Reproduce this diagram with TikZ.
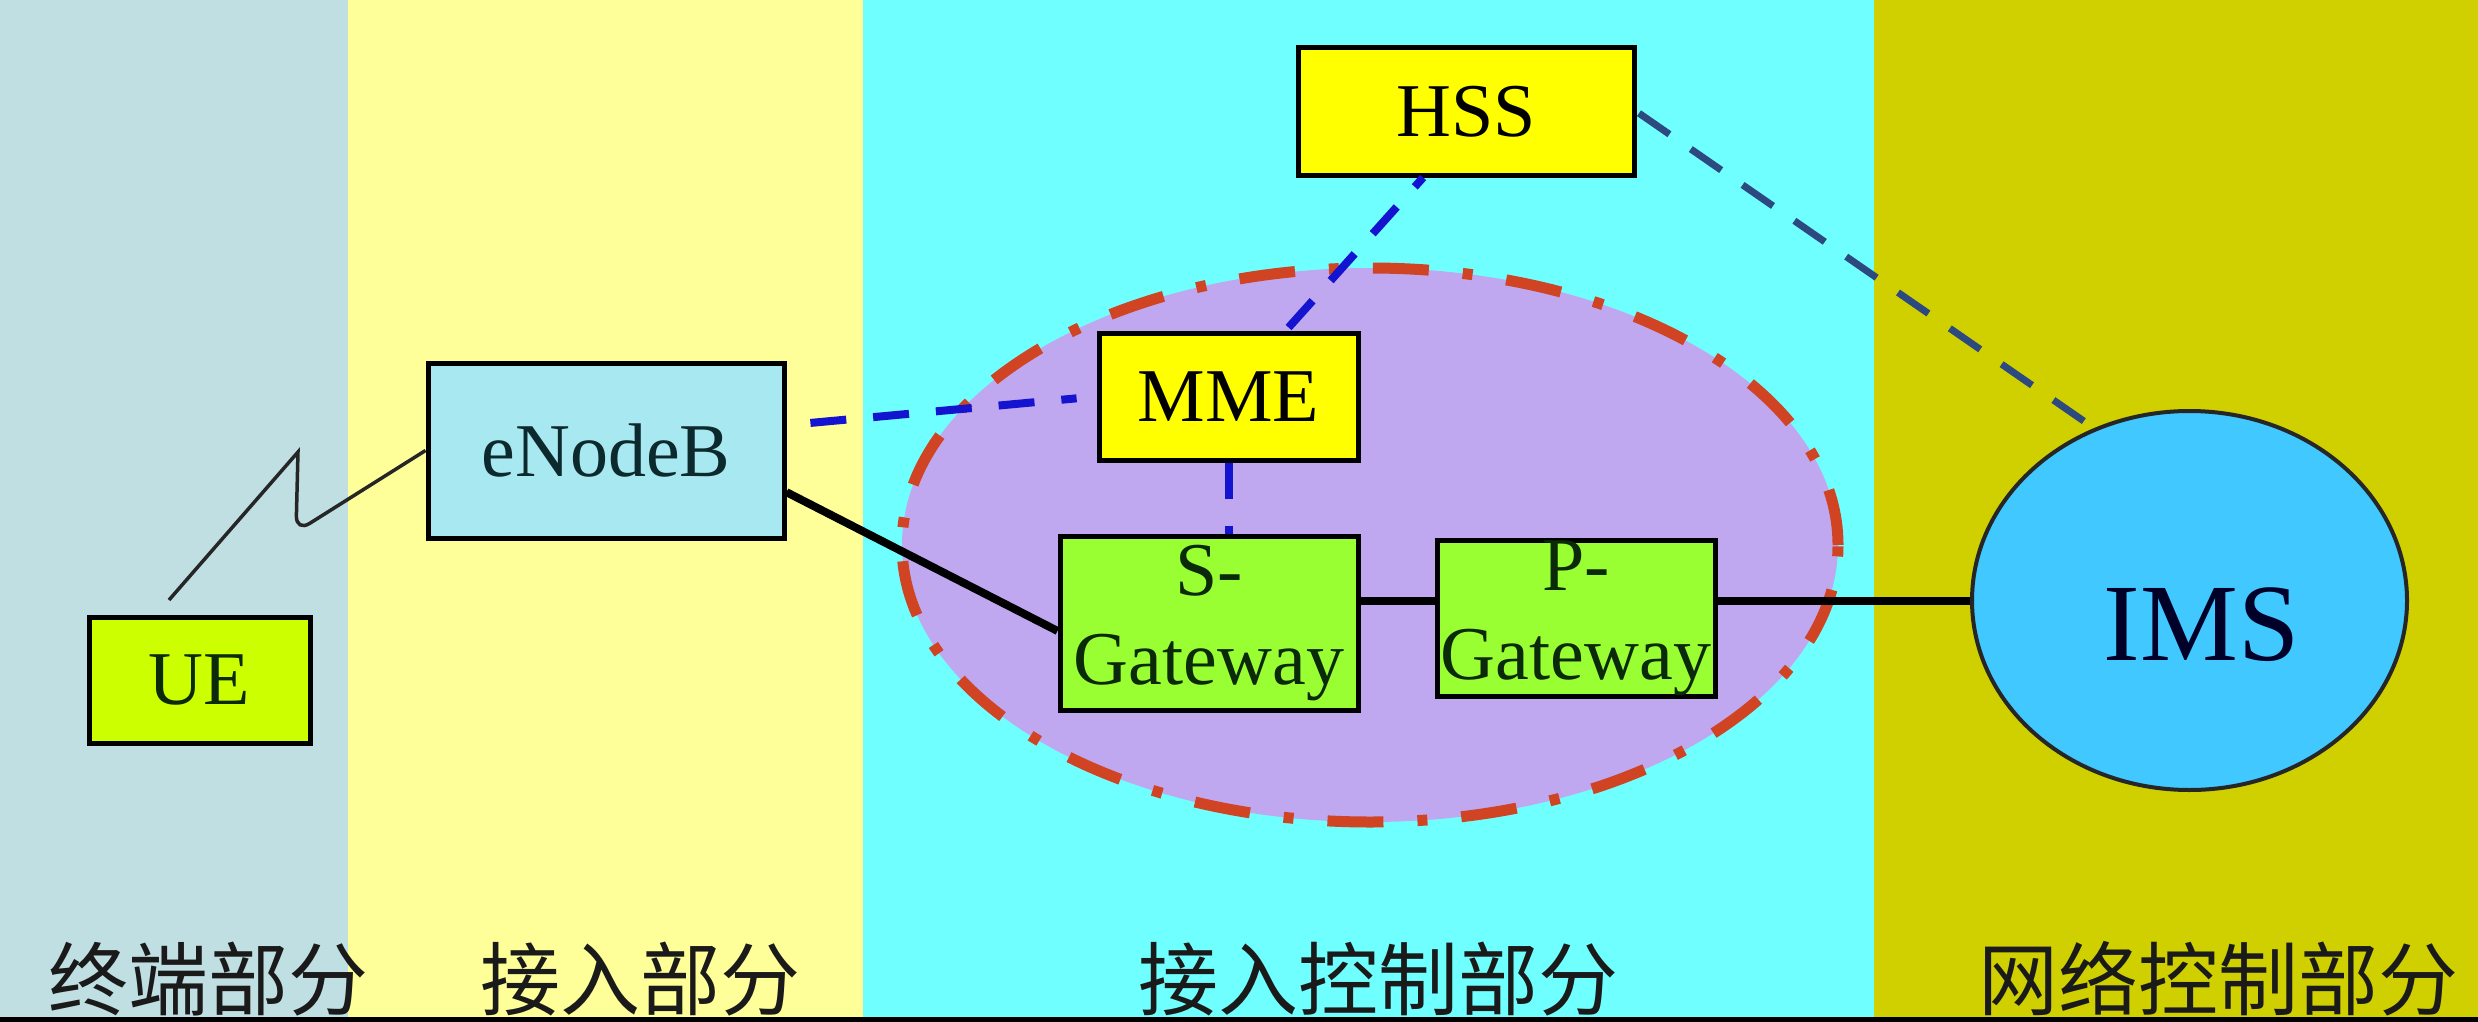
\documentclass[tikz,border=0pt]{standalone}
\usepackage{fontspec}
\setmainfont{Liberation Serif}
\newfontfamily\cjk{Noto Sans CJK SC}
\usetikzlibrary{shapes.geometric}
\definecolor{colA}{HTML}{C0DFE3}
\definecolor{colB}{HTML}{FFFF99}
\definecolor{colC}{HTML}{70FFFF}
\definecolor{colD}{HTML}{D0D000}
\definecolor{coreF}{HTML}{C0A8F0}
\definecolor{coreD}{HTML}{D04424}
\definecolor{imsF}{HTML}{40C8FF}
\definecolor{enbF}{HTML}{A8E8F0}
\definecolor{ueF}{HTML}{CCFF00}
\definecolor{yelF}{HTML}{FFFF00}
\definecolor{gwF}{HTML}{99FF33}
\definecolor{blueD}{HTML}{1414D0}
\definecolor{slateD}{HTML}{2C4A80}
\definecolor{txtG}{HTML}{0A2A0A}
\definecolor{txtT}{HTML}{0C2A2E}
\definecolor{txtN}{HTML}{000028}
\definecolor{labT}{HTML}{1A1A1A}
\begin{document}
\begin{tikzpicture}[x=1pt,y=-1pt,
  box/.style={draw=black,line width=5pt,inner sep=0pt,align=center,
    font=\fontsize{76}{89}\selectfont,text=black},
  core/.style={ellipse,fill=coreF,draw=coreD,line width=11pt,
    dash pattern=on 56pt off 34pt on 10pt off 34pt,inner sep=0pt},
  imsnode/.style={ellipse,fill=imsF,draw=black!85,line width=4pt,inner sep=0pt,
    font=\fontsize{110}{110}\selectfont,text=txtN},
  bluedash/.style={draw=blueD,line width=8pt,dash pattern=on 36pt off 27pt},
  slatedash/.style={draw=slateD,line width=7pt,dash pattern=on 37pt off 26pt},
  solidline/.style={draw=black,line width=8pt},
  zigline/.style={draw=black!85,line width=3.5pt},
  part/.style={anchor=base,inner sep=0pt,font=\cjk\fontsize{80}{80}\selectfont,text=labT}]
\useasboundingbox (0,0) rectangle (2478,1022);
% background columns
\fill[colA] (0,0) rectangle (348,1017);
\fill[colB] (348,0) rectangle (863,1017);
\fill[colC] (863,0) rectangle (1874,1017);
\fill[colD] (1874,0) rectangle (2478,1017);
\fill[black] (0,1017) rectangle (2478,1022);
% core ellipse
\node[core,minimum width=936pt,minimum height=554pt] (core) at (1370,545) {};
% nodes
\node[box,fill=ueF,text=txtG,minimum width=221pt,minimum height=126pt] (UE) at (199.5,680) {UE};
\node[box,fill=enbF,text=txtT,minimum width=356pt,minimum height=175pt] (eNodeB) at (606,450.5) {eNodeB};
\node[box,fill=yelF,minimum width=336pt,minimum height=127pt] (HSS) at (1466,111.5) {HSS};
\node[box,fill=yelF,minimum width=259pt,minimum height=127pt] (MME) at (1228.5,396.5) {MME};
\node[box,fill=gwF,text=txtG,minimum width=298pt,minimum height=174pt] (SGW) at (1209,623) {S-\\Gateway};
\node[box,fill=gwF,text=txtG,minimum width=278pt,minimum height=155pt] (PGW) at (1576,618.5) {P-\\Gateway};
\node[imsnode,minimum width=435pt,minimum height=379pt] (IMS) at (2189.5,600.5) {\hspace*{24pt}\raisebox{-60pt}[0pt][0pt]{IMS}};
% connectors
\coordinate (zA) at (169,600);
\coordinate (zB) at (298,452);
\coordinate (zC) at (296,532);
\draw[zigline] (zA) -- (zB) [rounded corners=16pt] -- (zC) -- (eNodeB.west);
\draw[bluedash,shorten <=24pt,shorten >=20pt] (eNodeB.8) -- (MME.west);
\draw[bluedash,shorten <=4pt] (MME.49) -- (HSS.237);
\draw[bluedash] (MME.south) -- (MME.south |- SGW.north);
\draw[slatedash,shorten <=3pt] (HSS.east) -- (IMS.119);
\draw[solidline] (eNodeB.-13.6) -- (SGW.183);
\draw[solidline] (SGW.east |- IMS.west) -- (PGW.west |- IMS.west);
\draw[solidline] (PGW.east |- IMS.west) -- (IMS.west);
% part labels
\node[part] (p1) at (208,1009) {终端部分};
\node[part] (p2) at (640,1009) {接入部分};
\node[part] (p3) at (1378,1009) {接入控制部分};
\node[part] (p4) at (2218,1009) {网络控制部分};
\end{tikzpicture}
\end{document}
